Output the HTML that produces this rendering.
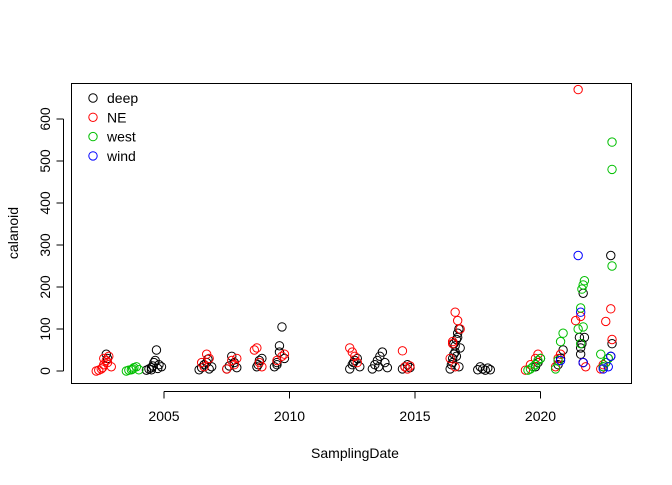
<!DOCTYPE html>
<html><head><meta charset="utf-8"><style>
body{margin:0;background:#fff}
svg text{font-family:"Liberation Sans",Arial,sans-serif;font-size:14px;fill:#000}
</style></head><body>
<svg id="chart" width="672" height="480" viewBox="0 0 672 480" xmlns="http://www.w3.org/2000/svg">
<rect x="71.5" y="83.5" width="560" height="300" fill="none" stroke="#000"/>
<g id="axes"></g>
<g id="points"></g>
<text x="355" y="458" text-anchor="middle">SamplingDate</text>
<text transform="translate(18,233) rotate(-90)" text-anchor="middle">calanoid</text>
<g id="legend"></g>
</svg>
<script>
const xTicks=[2005,2010,2015,2020];
const yTicks=[0,100,200,300,400,500,600];
const seriesNames=["deep","NE","west","wind"];
const seriesColors=["#000000","#ff0000","#00bf00","#0000ff"];
const deepDates=[2002.7,2002.75,2004.3,2004.4,2004.5,2004.55,2004.6,2004.7,2004.8,2004.9,2004.5,2004.65,2004.75,2006.4,2006.5,2006.6,2006.7,2006.8,2006.9,2006.75,2007.5,2007.6,2007.7,2007.8,2007.9,2008.7,2008.8,2008.9,2008.75,2009.4,2009.5,2009.6,2009.7,2009.8,2009.6,2009.5,2012.4,2012.5,2012.6,2012.7,2012.8,2012.55,2013.3,2013.4,2013.5,2013.6,2013.7,2013.8,2013.9,2013.55,2014.5,2014.6,2014.7,2014.8,2016.4,2016.45,2016.5,2016.55,2016.6,2016.65,2016.7,2016.75,2016.8,2016.5,2016.6,2016.7,2016.55,2016.65,2016.75,2017.5,2017.6,2017.7,2017.8,2017.9,2018.0,2019.8,2019.9,2020.0,2020.7,2020.8,2020.9,2021.55,2021.6,2021.65,2021.7,2021.75,2021.6,2021.7,2022.5,2022.6,2022.7,2022.8,2022.85,2022.8];
const deepValues=[40,30,2,5,8,12,20,50,15,10,3,25,6,3,8,15,20,5,10,28,5,12,35,20,8,10,25,30,15,10,20,45,105,30,60,15,5,15,25,30,10,20,5,15,25,35,45,20,8,10,5,10,15,8,5,15,30,40,60,75,90,100,55,20,45,80,65,35,10,3,10,5,2,7,3,10,20,30,15,30,50,80,55,65,185,80,40,20,10,20,30,275,65,35];
const neDates=[2002.3,2002.4,2002.5,2002.55,2002.6,2002.7,2002.8,2002.9,2002.6,2002.75,2006.5,2006.6,2006.7,2006.8,2007.5,2007.7,2007.8,2007.9,2008.6,2008.7,2008.8,2008.9,2009.5,2009.7,2009.8,2012.4,2012.5,2012.6,2012.7,2014.5,2014.6,2014.7,2014.8,2016.4,2016.5,2016.6,2016.7,2016.8,2016.6,2016.5,2019.4,2019.6,2019.8,2019.9,2020.6,2020.7,2020.8,2021.4,2021.5,2021.6,2021.7,2021.8,2022.4,2022.5,2022.6,2022.8,2022.85];
const neValues=[0,2,5,8,15,25,35,10,30,20,20,10,40,30,5,25,15,30,50,55,20,10,25,35,40,55,45,35,20,48,10,5,12,30,65,140,120,100,10,70,2,15,30,40,10,30,40,120,670,130,20,10,5,15,118,148,75];
const westDates=[2003.5,2003.6,2003.7,2003.75,2003.8,2003.9,2004.0,2019.5,2019.6,2019.7,2019.8,2019.9,2020.0,2020.6,2020.7,2020.8,2020.9,2021.5,2021.6,2021.65,2021.7,2021.75,2021.6,2021.7,2022.4,2022.5,2022.6,2022.7,2022.85,2022.85,2022.85];
const westValues=[0,2,3,5,8,10,3,2,5,10,15,25,30,5,25,70,90,100,150,195,205,215,65,105,40,10,20,30,545,480,250];
const windDates=[2020.8,2021.5,2021.6,2021.7,2022.5,2022.7,2022.8];
const windValues=[25,275,140,20,5,10,35];

const NS="http://www.w3.org/2000/svg";
const xScale=d=>164+(d-2005)*25.1;
const yScale=v=>371-v*0.42;
function mk(tag,attrs,parent){const e=document.createElementNS(NS,tag);for(const k in attrs)e.setAttribute(k,attrs[k]);parent.appendChild(e);return e;}
const axes=document.getElementById('axes');
let l=mk('line',{x1:xScale(xTicks[0]),x2:xScale(xTicks[xTicks.length-1]),y1:391.5,y2:391.5,stroke:'#000'},axes);


xTicks.forEach(t=>{const x=xScale(t);
 const tk=mk('line',{x1:x,x2:x,y1:391.5,y2:398.5,stroke:'#000'},axes);
 
 
 const tx=mk('text',{x:x,y:421,'text-anchor':'middle'},axes);tx.textContent=t;
 
 
});
l=mk('line',{x1:63.5,x2:63.5,y1:yScale(yTicks[0]),y2:yScale(yTicks[yTicks.length-1]),stroke:'#000'},axes);


yTicks.forEach(t=>{const y=yScale(t);
 const tk=mk('line',{x1:56.5,x2:63.5,y1:y,y2:y,stroke:'#000'},axes);
 
 
 const tx=mk('text',{transform:`translate(50,${y}) rotate(-90)`,'text-anchor':'middle'},axes);tx.textContent=t;
 
 
});
const pts=document.getElementById('points');
const allDates=[deepDates,neDates,westDates,windDates];
const allValues=[deepValues,neValues,westValues,windValues];
allDates.forEach((ds,s)=>{ds.forEach((d,i)=>{
 const c=mk('circle',{cx:xScale(d),cy:yScale(allValues[s][i]),r:4.2,fill:'none',stroke:seriesColors[s]},pts);
 
 
});});
const lg=document.getElementById('legend');
seriesNames.forEach((n,i)=>{const y=98+i*19.3;
 const c=mk('circle',{cx:93,cy:y,r:4.2,fill:'none',stroke:seriesColors[i]},lg);
 
 
 const t=mk('text',{x:107,y:y+5},lg);t.textContent=n;
 
 
});
</script>
</body></html>
